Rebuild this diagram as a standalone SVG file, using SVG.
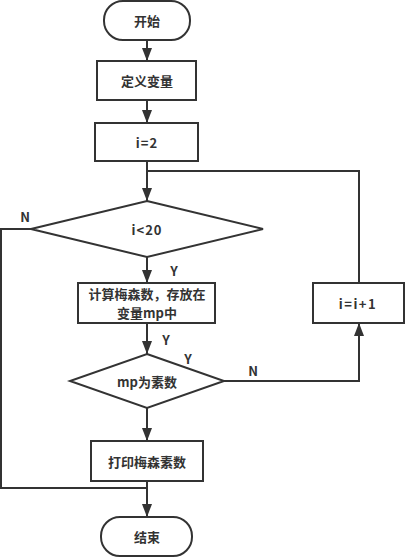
<svg xmlns="http://www.w3.org/2000/svg" width="405" height="558" viewBox="0 0 405 558">
<style>
.n{fill:#fff;stroke:#333;stroke-width:2}
.c{fill:none;stroke:#333;stroke-width:2}
text{font-family:"Noto Sans CJK SC","Noto Sans",sans-serif;font-size:13px;font-weight:bold;fill:#333;text-anchor:middle;dominant-baseline:central}
</style>
<defs>
<marker id="a" viewBox="0 0 13 10" refX="13" refY="5" markerWidth="6.500" markerHeight="5" markerUnits="strokeWidth" orient="auto">
<path d="M0,0L13,5L0,10z" fill="#333"/>
</marker>
</defs>
<g id="connectors">
<path class="c" d="M147,40V61" marker-end="url(#a)"/>
<path class="c" d="M147,100V123" marker-end="url(#a)"/>
<path class="c" d="M147,161V201" marker-end="url(#a)"/>
<path class="c" d="M359,283V171H147"/>
<path class="c" d="M147,257V283" marker-end="url(#a)"/>
<path class="c" d="M147,323V354" marker-end="url(#a)"/>
<path class="c" d="M224,381H359V323" marker-end="url(#a)"/>
<path class="c" d="M147,408V441" marker-end="url(#a)"/>
<path class="c" d="M147,481V517" marker-end="url(#a)"/>
<path class="c" d="M31,229H1V488H147"/>
<text x="25" y="216">N</text>
<text x="174" y="270">Y</text>
<text x="166" y="339">Y</text>
<text x="188" y="358">Y</text>
<text x="253" y="370">N</text>
</g>
<g id="start"><rect class="n" x="104" y="1" width="86" height="39" rx="19"/><text x="147" y="20.500">开始</text></g>
<g id="define"><rect class="n" x="97" y="61" width="99" height="39"/><text x="147" y="80.500">定义变量</text></g>
<g id="init"><rect class="n" x="95" y="123" width="103" height="38"/><text x="147" y="142" letter-spacing="1">i=2</text></g>
<g id="cond1"><path class="n" d="M147,201L263,229L147,257L31,229Z"/><text x="147" y="229" letter-spacing="1">i&lt;20</text></g>
<g id="calc"><rect class="n" x="78" y="283" width="137" height="40"/><text x="147" y="293.500">计算梅森数，存放在</text><text x="147" y="312.500">变量mp中</text></g>
<g id="inc"><rect class="n" x="313" y="283" width="91" height="40"/><text x="358" y="303" letter-spacing="1.500">i=i+1</text></g>
<g id="cond2"><path class="n" d="M147,354L224,381L147,408L70,381Z"/><text x="147" y="381">mp为素数</text></g>
<g id="print"><rect class="n" x="91" y="441" width="112" height="40"/><text x="147" y="461">打印梅森素数</text></g>
<g id="end"><rect class="n" x="101" y="517" width="91" height="39" rx="19"/><text x="147" y="536.500">结束</text></g>
</svg>
